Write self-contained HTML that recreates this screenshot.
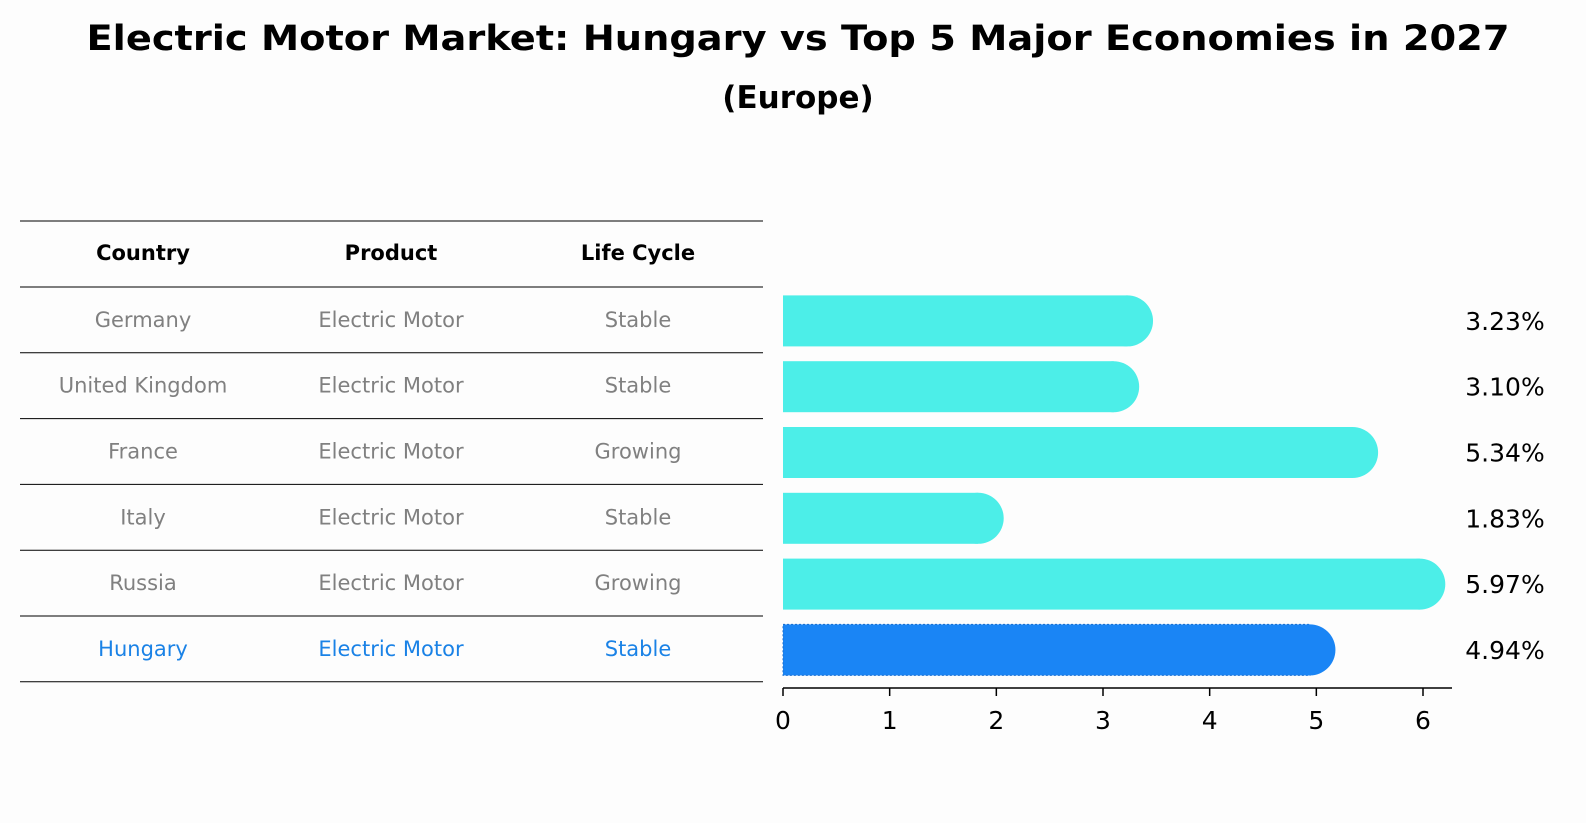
<!DOCTYPE html>
<html><head><meta charset="utf-8"><style>
html,body{margin:0;padding:0;overflow:hidden;background:#fdfdfd;font-family:"DejaVu Sans","Liberation Sans",sans-serif;}
svg{display:block;}
</style></head><body>
<svg width="1586" height="823" xmlns="http://www.w3.org/2000/svg" font-family="DejaVu Sans, Liberation Sans, sans-serif">
<rect width="1586" height="823" fill="#fdfdfd"/>
<text x="798" y="50" text-anchor="middle" font-size="35" font-weight="bold" textLength="1423" lengthAdjust="spacingAndGlyphs">Electric Motor Market: Hungary vs Top 5 Major Economies in 2027</text>
<text x="798" y="108" text-anchor="middle" font-size="31" font-weight="bold">(Europe)</text>
<g id="table"></g>
<g id="bars"></g>
</svg>
<script>
const countries=["Germany","United Kingdom","France","Italy","Russia","Hungary"];
const products=["Electric Motor","Electric Motor","Electric Motor","Electric Motor","Electric Motor","Electric Motor"];
const lifeCycles=["Stable","Stable","Growing","Stable","Growing","Stable"];
const values=[3.23,3.10,5.34,1.83,5.97,4.94];
const ticks=[0,1,2,3,4,5,6];
const NS="http://www.w3.org/2000/svg";
function mk(tag,attrs,parent,text){const e=document.createElementNS(NS,tag);for(const k in attrs)e.setAttribute(k,attrs[k]);if(text!==undefined)e.textContent=text;parent.appendChild(e);return e;}
const tbl=document.getElementById('table');
const bars=document.getElementById('bars');
const rowTop=287,rowH=65.8,colX=[143,391,638];
const lineYs=[221,287];
for(let i=1;i<=countries.length;i++)lineYs.push(rowTop+i*rowH);
lineYs.forEach(y=>{const l=mk('line',{x1:20,x2:763,y1:y,y2:y,stroke:'#000','stroke-width':1},tbl);

});
["Country","Product","Life Cycle"].forEach((h,j)=>{const t=mk('text',{x:colX[j],y:260,'text-anchor':'middle','font-size':21,'font-weight':'bold'},tbl,h);

});
countries.forEach((c,i)=>{const y=rowTop+(i+0.5)*rowH+7;const col=c==="Hungary"?'#1a82e6':'#808080';
[c,products[i],lifeCycles[i]].forEach((v,j)=>{const t=mk('text',{x:colX[j],y:y,'text-anchor':'middle','font-size':21,fill:col},tbl,v);

});});
const x0=783,pxPer=(1423-783)/6;
const xs=v=>x0+v*pxPer;
const barH=51,r=25.5;
values.forEach((v,i)=>{const cy=rowTop+(i+0.5)*rowH+1;const hu=countries[i]==="Hungary";
const fill=hu?'#1a85f5':'#4ceee8';
const g=mk('g',{},bars);


mk('rect',{x:xs(0),y:cy-barH/2,width:xs(v)-xs(0),height:barH,fill:fill,stroke:hu?'#1a6fd0':'none','stroke-dasharray':hu?'2,2':'none'},g);
mk('circle',{cx:xs(v),cy:cy,r:r,fill:fill},g);
const t=mk('text',{x:1505,y:cy+9,'text-anchor':'middle','font-size':25},bars,v.toFixed(2)+'%');

});
const ax=mk('line',{x1:x0,x2:1452,y1:688,y2:688,stroke:'#000','stroke-width':1.5},bars);


ticks.forEach(t=>{const l=mk('line',{x1:xs(t),x2:xs(t),y1:688,y2:696,stroke:'#000','stroke-width':1.5},bars);


const tx=mk('text',{x:xs(t),y:729,'text-anchor':'middle','font-size':25},bars,String(t));

});
</script>
</body></html>
